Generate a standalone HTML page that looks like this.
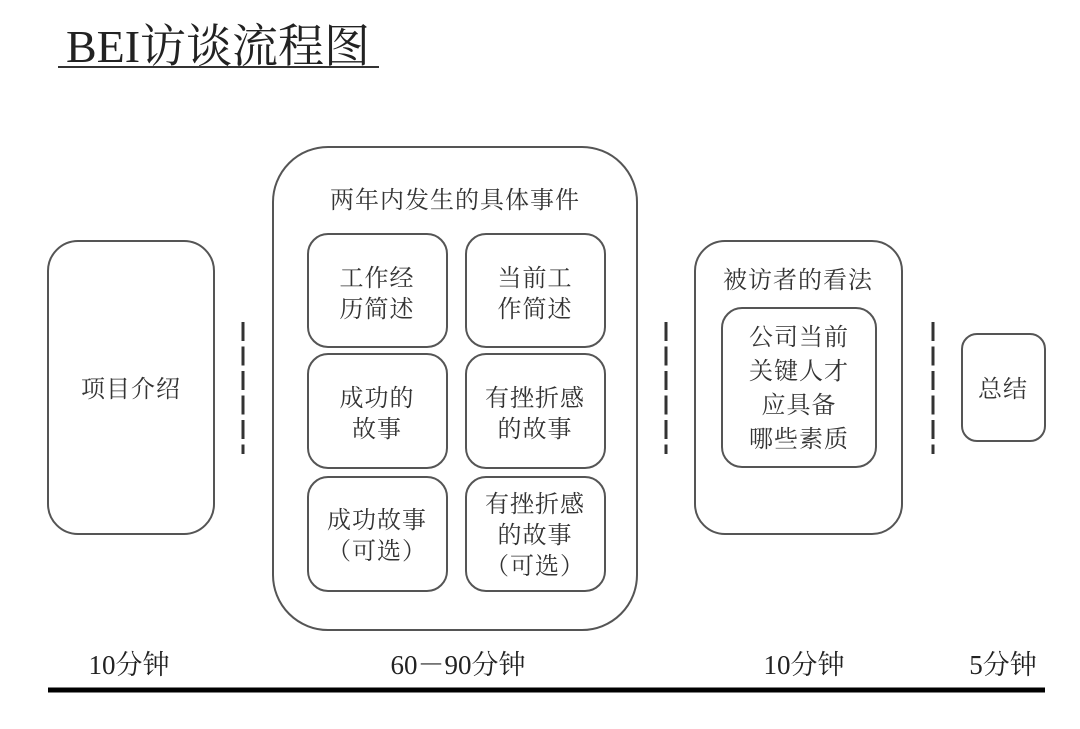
<!DOCTYPE html>
<html><head><meta charset="utf-8"><style>
body{margin:0;background:#fff;width:1080px;height:724px;overflow:hidden}
svg text{font-family:"Liberation Serif","Noto Serif CJK SC",serif;fill:#333;text-anchor:middle}
.c{font-size:24px;letter-spacing:1px}
</style></head><body>
<svg width="1080" height="724" viewBox="0 0 1080 724" xmlns="http://www.w3.org/2000/svg">
<g fill="none" stroke="#555" stroke-width="2">
<rect x="48" y="241" width="166" height="293" rx="30"/>
<rect x="273" y="147" width="364" height="483" rx="55"/>
<rect x="308" y="234" width="139" height="113" rx="20"/>
<rect x="466" y="234" width="139" height="113" rx="20"/>
<rect x="308" y="354" width="139" height="114" rx="20"/>
<rect x="466" y="354" width="139" height="114" rx="20"/>
<rect x="308" y="477" width="139" height="114" rx="20"/>
<rect x="466" y="477" width="139" height="114" rx="20"/>
<rect x="695" y="241" width="207" height="293" rx="30"/>
<rect x="722" y="308" width="154" height="159" rx="20"/>
<rect x="962" y="334" width="83" height="107" rx="15"/>
</g>
<g stroke="#333" stroke-width="3" stroke-dasharray="19,5.5">
<line x1="243" y1="322" x2="243" y2="454"/>
<line x1="666" y1="322" x2="666" y2="454"/>
<line x1="933" y1="322" x2="933" y2="454"/>
</g>
<line x1="48" y1="690" x2="1045" y2="690" stroke="#000" stroke-width="5"/>
<text x="218" y="62" style="font-size:46px;fill:#222">BEI访谈流程图</text>
<line x1="58" y1="67" x2="379" y2="67" stroke="#333" stroke-width="2"/>
<text class="c" x="131" y="397">项目介绍</text>
<text class="c" x="455" y="208">两年内发生的具体事件</text>
<text class="c" x="377" y="286">工作经</text><text class="c" x="377" y="317">历简述</text>
<text class="c" x="535" y="286">当前工</text><text class="c" x="535" y="317">作简述</text>
<text class="c" x="377" y="406">成功的</text><text class="c" x="377" y="437">故事</text>
<text class="c" x="535" y="406">有挫折感</text><text class="c" x="535" y="437">的故事</text>
<text class="c" x="377" y="528">成功故事</text><text class="c" x="377" y="559">（可选）</text>
<text class="c" x="535" y="512">有挫折感</text><text class="c" x="535" y="543">的故事</text><text class="c" x="535" y="574">（可选）</text>
<text class="c" x="798" y="288">被访者的看法</text>
<text class="c" x="799" y="345">公司当前</text><text class="c" x="799" y="379">关键人才</text><text class="c" x="799" y="413">应具备</text><text class="c" x="799" y="447">哪些素质</text>
<text class="c" x="1003" y="397">总结</text>
<g style="font-size:27px">
<text x="129" y="674" style="fill:#222">10分钟</text>
<text x="458" y="674" style="fill:#222">60－90分钟</text>
<text x="804" y="674" style="fill:#222">10分钟</text>
<text x="1003" y="674" style="fill:#222">5分钟</text>
</g>
</svg>
</body></html>
